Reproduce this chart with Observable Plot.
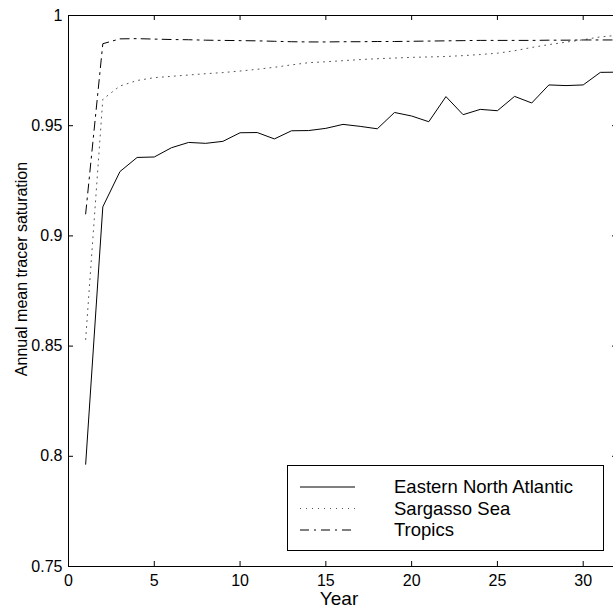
<!DOCTYPE html>
<html><head><meta charset="utf-8">
<script src="https://cdn.jsdelivr.net/npm/d3@7"></script>
<script src="https://cdn.jsdelivr.net/npm/@observablehq/plot@0.6"></script>
<style>
html,body{margin:0;padding:0;background:#fff;overflow:hidden;}
#wrap{position:relative;width:613px;height:609px;overflow:hidden;background:#fff;}
#legend{position:absolute;left:287px;top:465px;width:317px;height:86px;}
#legend svg{position:absolute;left:0;top:0;}
#legend .lbl{position:absolute;left:107px;font-size:18.5px;line-height:21.5px;white-space:nowrap;color:#000;}
</style></head><body><div id="wrap"></div>
<script>
const years = [1,2,3,4,5,6,7,8,9,10,11,12,13,14,15,16,17,18,19,20,21,22,23,24,25,26,27,28,29,30,31,32];
const easternNorthAtlantic = [0.7964,0.9132,0.9292,0.9356,0.9358,0.9400,0.9424,0.9420,0.9429,0.9468,0.9469,0.9440,0.9477,0.9478,0.9488,0.9506,0.9497,0.9486,0.9560,0.9544,0.9518,0.9632,0.9550,0.9574,0.9568,0.9633,0.9603,0.9685,0.9682,0.9685,0.9742,0.9743];
const sargassoSea = [0.853,0.962,0.968,0.9705,0.9718,0.9724,0.9730,0.9736,0.9741,0.9748,0.9756,0.9765,0.9776,0.9786,0.9790,0.9795,0.9800,0.9804,0.9807,0.9810,0.9812,0.9814,0.9818,0.9823,0.9829,0.9840,0.9855,0.9868,0.9879,0.9890,0.9903,0.9910];
const tropics = [0.910,0.9872,0.9894,0.9895,0.9893,0.9891,0.9890,0.9888,0.9887,0.9886,0.9885,0.9883,0.9881,0.9880,0.9880,0.9881,0.9881,0.9882,0.9882,0.9883,0.9884,0.9885,0.9886,0.9887,0.9887,0.9887,0.9887,0.9888,0.9888,0.9889,0.9889,0.9889];
const seriesNames = ["Eastern North Atlantic","Sargasso Sea","Tropics"];
const xTicks = [0,5,10,15,20,25,30];
const yTicks = [0.75,0.8,0.85,0.9,0.95,1];
const yTickLabels = ["0.75","0.8","0.85","0.9","0.95","1"];
const xLabel = "Year";
const yLabel = "Annual mean tracer saturation";

const seriesValues = [easternNorthAtlantic, sargassoSea, tropics];
const seriesStyle = [
  {stroke:"#000", dash:null},
  {stroke:"#555", dash:"1,5"},
  {stroke:"#000", dash:"9,5,2,5"}
];
const font = "'Liberation Sans', Arial, Helvetica, sans-serif";

const lineMarks = seriesNames.map((name, s) => {
  const rows = years.map((yr, i) => ({year: yr, value: seriesValues[s][i], series: name}));
  const st = seriesStyle[s];
  const opts = {x: "year", y: "value", stroke: st.stroke, strokeWidth: 1, curve: "linear"};
  if (st.dash) opts.strokeDasharray = st.dash;
  return Plot.line(rows, opts);
});

const chart = Plot.plot({
  width: 613, height: 609,
  marginLeft: 68, marginRight: -4, marginTop: 15, marginBottom: 43,
  style: {fontFamily: font, fontSize: "16px", overflow: "hidden", background: "#fff", color: "#000"},
  x: {domain: [0, 32], ticks: xTicks, tickSize: 0, tickPadding: 8, label: null, tickFormat: d => String(d)},
  y: {domain: [0.75, 1], ticks: yTicks, tickSize: 0, tickPadding: 6, label: null, tickFormat: d => yTickLabels[yTicks.findIndex(t => Math.abs(t - d) < 1e-9)]},
  marks: [
    Plot.frame({stroke: "#000"}),
    Plot.ruleX(xTicks, {x: d => d, insetTop: 546, stroke: "#000"}),
    Plot.ruleX(xTicks, {x: d => d, insetBottom: 546, stroke: "#000"}),
    Plot.ruleY(yTicks, {y: d => d, insetRight: 544, stroke: "#000"}),
    Plot.ruleY(yTicks, {y: d => d, insetLeft: 544, stroke: "#000"}),
    ...lineMarks,
    Plot.text([yLabel], {frameAnchor: "left", textAnchor: "middle", lineAnchor: "middle", dx: -47, dy: -22, rotate: -90, text: d => d, fontSize: 16, fill: "#000"}),
    Plot.text([xLabel], {frameAnchor: "bottom", dx: -4, dy: 38.5, text: d => d, fontSize: 19, fill: "#000"})
  ]
});
const wrap = document.getElementById("wrap");
wrap.appendChild(chart);

// Legend
const legend = d3.select(wrap).append("div").attr("id", "legend").style("font-family", font);
const lg = legend.append("svg").attr("width", 317).attr("height", 86);
lg.append("rect").attr("x", 0.5).attr("y", 0.5).attr("width", 316).attr("height", 85)
  .attr("fill", "#fff").attr("stroke", "#000");
const lineY = [22, 43.5, 65];
const textTop = [11.4, 32.9, 54.4];
seriesNames.forEach((name, s) => {
  const st = seriesStyle[s];
  const l = lg.append("line").attr("x1", 13).attr("x2", 68).attr("y1", lineY[s]).attr("y2", lineY[s])
    .attr("stroke", st.stroke).attr("stroke-width", 1);
  if (st.dash) l.attr("stroke-dasharray", st.dash);
  legend.append("div").attr("class", "lbl").style("top", textTop[s] + "px").text(name);
});
</script></body></html>
